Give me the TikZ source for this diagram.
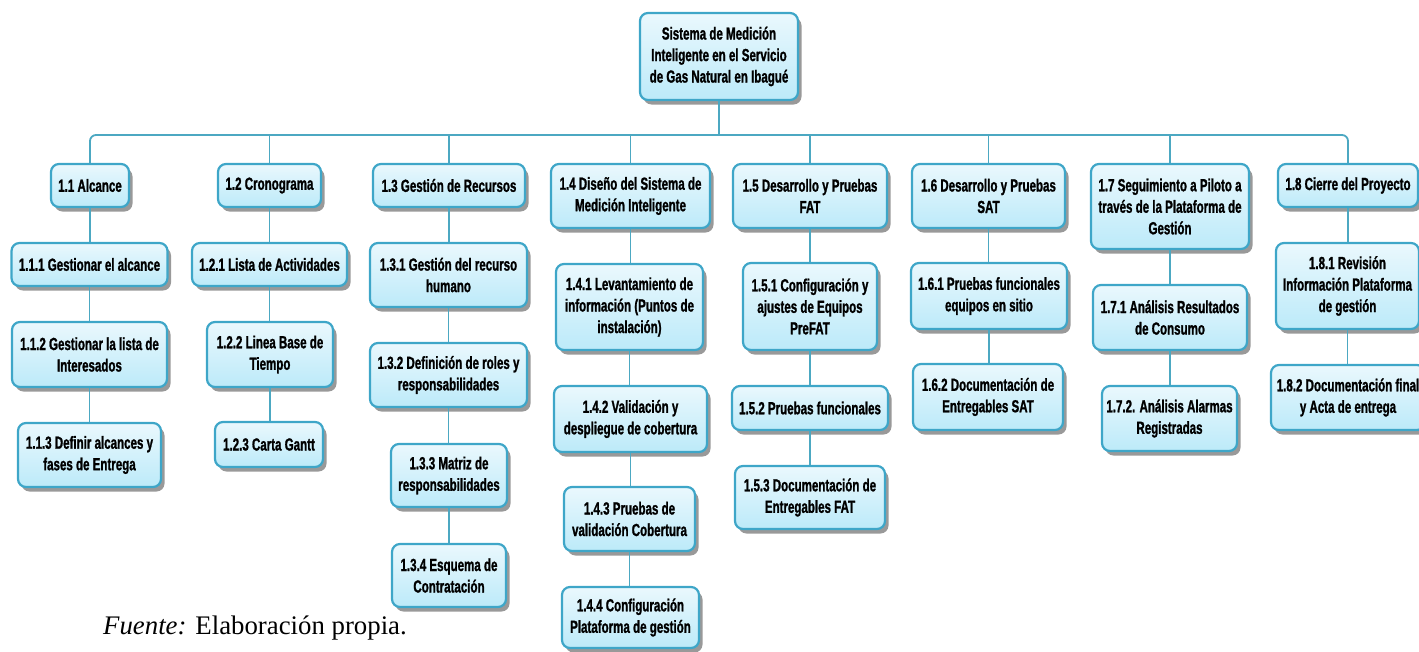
\documentclass[tikz,border=0pt]{standalone}
\usepackage{fontspec}
\setmainfont{Liberation Serif}
\newfontfamily\boxfont{Liberation Sans}[FakeStretch=0.66,FakeBold=1.2]
\usetikzlibrary{shadows}
\definecolor{edge}{RGB}{62,166,200}
\definecolor{link}{RGB}{76,168,194}
\definecolor{ftop}{RGB}{234,248,253}
\definecolor{fbot}{RGB}{188,234,249}
\tikzset{
  box/.style={draw=edge, line width=2.2pt, rounded corners=8pt,
    top color=ftop, bottom color=fbot, inner sep=0pt, align=center,
    font=\boxfont\bfseries\fontsize{17.5}{21.5}\selectfont,
    drop shadow={shadow xshift=3.5pt, shadow yshift=-4.5pt, fill=black!50, opacity=0.8}},
  conn/.style={draw=link, line width=1.8pt},
}
\newcommand{\bx}[6]{\node[box, minimum width=#4pt, minimum height=#5pt] (#1) at (#2,#3) {#6};}
\begin{document}
\begin{tikzpicture}[x=1pt,y=-1pt]
\useasboundingbox (0,0) rectangle (1419,651);
% root
\bx{root}{719}{56.5}{158}{87}{Sistema de Medición\\Inteligente en el Servicio\\de Gas Natural en Ibagué}
% level 1
\bx{b11}{90}{185.5}{78}{43}{1.1 Alcance}
\bx{b12}{269.5}{185.5}{103}{43}{1.2 Cronograma}
\bx{b13}{449}{185.5}{152}{43}{1.3 Gestión de Recursos}
\bx{b14}{630.5}{196}{159}{64}{1.4 Diseño del Sistema de\\Medición Inteligente}
\bx{b15}{810}{196}{154}{64}{1.5 Desarrollo y Pruebas\\FAT}
\bx{b16}{988.5}{196}{153}{64}{1.6 Desarrollo y Pruebas\\SAT}
\bx{b17}{1170}{206.5}{158}{85}{1.7 Seguimiento a Piloto a\\través de la Plataforma de\\Gestión}
\bx{b18}{1348}{185.5}{140}{43}{1.8 Cierre del Proyecto}
% column 1
\bx{b111}{89.5}{264.5}{156}{43}{1.1.1 Gestionar el alcance}
\bx{b112}{89.5}{354.5}{155}{65}{1.1.2 Gestionar la lista de\\Interesados}
\bx{b113}{89.5}{455}{143}{64}{1.1.3 Definir alcances y\\fases de Entrega}
% column 2
\bx{b121}{269.5}{264.5}{155}{43}{1.2.1 Lista de Actividades}
\bx{b122}{270}{354.5}{126}{65}{1.2.2 Linea Base de\\Tiempo}
\bx{b123}{269}{444.5}{108}{45}{1.2.3 Carta Gantt}
% column 3
\bx{b131}{448.5}{275}{157}{64}{1.3.1 Gestión del recurso\\humano}
\bx{b132}{448.5}{375}{157}{64}{1.3.2 Definición de roles y\\responsabilidades}
\bx{b133}{449}{475.5}{116}{63}{1.3.3 Matriz de\\responsabilidades}
\bx{b134}{449}{575.5}{114}{63}{1.3.4 Esquema de\\Contratación}
% column 4
\bx{b141}{629.5}{307}{147}{86}{1.4.1 Levantamiento de\\información (Puntos de\\instalación)}
\bx{b142}{630.5}{419}{153}{66}{1.4.2 Validación y\\despliegue de cobertura}
\bx{b143}{629.5}{519}{131}{64}{1.4.3 Pruebas de\\validación Cobertura}
\bx{b144}{630.5}{617.5}{137}{61}{1.4.4 Configuración\\Plataforma de gestión}
% column 5
\bx{b151}{810}{306.5}{134}{87}{1.5.1 Configuración y\\ajustes de Equipos\\PreFAT}
\bx{b152}{810}{408}{156}{44}{1.5.2 Pruebas funcionales}
\bx{b153}{810}{497.5}{150}{63}{1.5.3 Documentación de\\Entregables FAT}
% column 6
\bx{b161}{989}{296}{156}{66}{1.6.1 Pruebas funcionales\\equipos en sitio}
\bx{b162}{988}{397}{150}{66}{1.6.2 Documentación de\\Entregables SAT}
% column 7
\bx{b171}{1170}{317.5}{154}{65}{1.7.1 Análisis Resultados\\de Consumo}
\bx{b172}{1169.5}{418.5}{135}{65}{1.7.2. Análisis Alarmas\\Registradas}
% column 8
\bx{b181}{1347.5}{286}{143}{86}{1.8.1 Revisión\\Información Plataforma\\de gestión}
\bx{b182}{1348}{397.5}{154}{65}{1.8.2 Documentación final\\y Acta de entrega}
% bus
\coordinate (bus) at (719,135);
\draw[conn] (root.south) -- (bus);
\draw[conn, rounded corners=6pt] (b11.north) -- (b11.north |- bus) -- (b18.north |- bus) -- (b18.north);
\foreach \n in {b12,b13,b14,b15,b16,b17} {\draw[conn] (\n.north) -- (\n.north |- bus);}
% vertical links
\foreach \p/\c in {b11/b111,b111/b112,b112/b113,b12/b121,b121/b122,b122/b123,
  b13/b131,b131/b132,b132/b133,b133/b134,b14/b141,b141/b142,b142/b143,b143/b144,
  b15/b151,b151/b152,b152/b153,b16/b161,b161/b162,b17/b171,b171/b172,b18/b181,b181/b182}
  {\draw[conn] (\p.south) -- (\p.south |- \c.north);}
% source
\node[anchor=base west, inner sep=0pt, font=\fontsize{26.8}{30}\selectfont] (src) at (103,634) {\textit{Fuente:} Elaboración propia.};
\end{tikzpicture}
\end{document}
